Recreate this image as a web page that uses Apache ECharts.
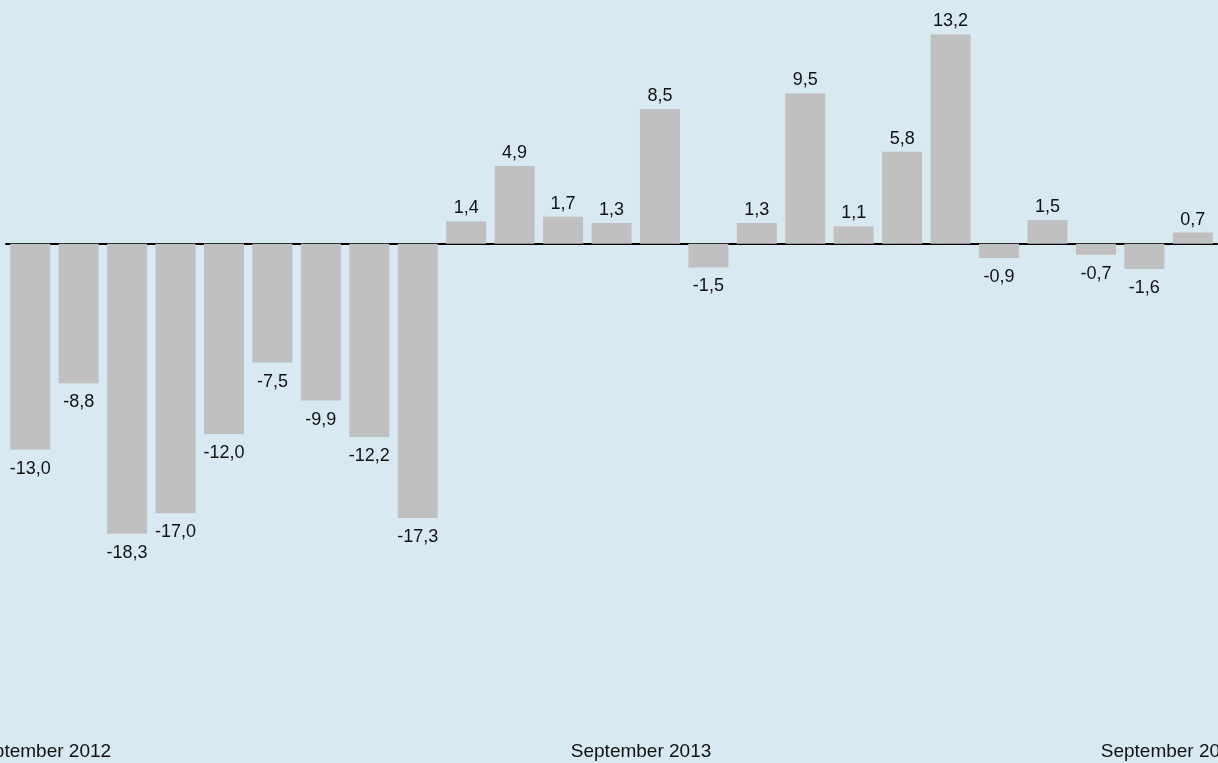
<!DOCTYPE html>
<html>
<head>
<meta charset="utf-8">
<script src="https://cdn.jsdelivr.net/npm/echarts@6/dist/echarts.min.js"></script>
<style>
html,body{margin:0;padding:0;background:#d9e9f2;}
#c{width:1218px;height:763px;}
</style>
</head>
<body>
<div id="c"></div>
<script>
// Data
const categories = ['2012-09','2012-10','2012-11','2012-12','2013-01','2013-02','2013-03','2013-04','2013-05','2013-06','2013-07','2013-08','2013-09','2013-10','2013-11','2013-12','2014-01','2014-02','2014-03','2014-04','2014-05','2014-06','2014-07','2014-08','2014-09'];
const values = [-13.0,-8.8,-18.3,-17.0,-12.0,-7.5,-9.9,-12.2,-17.3,1.4,4.9,1.7,1.3,8.5,-1.5,1.3,9.5,1.1,5.8,13.2,-0.9,1.5,-0.7,-1.6,0.7];
const tickLabels = ['September 2012','September 2013','September 2014'];
const tickPositions = [0.72, 13.11, 24.05];

const fmt = v => v.toFixed(1).replace('.', ',');
const chart = echarts.init(document.getElementById('c'));
chart.setOption({
  backgroundColor: '#d9e9f2',
  animation: false,
  textStyle: { fontFamily: 'Liberation Sans, Arial, sans-serif' },
  grid: { left: 6, right: 1, top: 6, bottom: 28, containLabel: false, outerBoundsMode: 'none' },
  xAxis: [
    {
      type: 'category', data: categories, position: 'top',
      axisLine: { show: true, onZero: true, lineStyle: { color: '#000', width: 2 } },
      axisTick: { show: false }, axisLabel: { show: false }, splitLine: { show: false }
    },
    {
      type: 'value', min: 0, max: categories.length, position: 'bottom',
      axisLine: { show: false, onZero: false }, axisTick: { show: false }, splitLine: { show: false },
      axisLabel: {
        customValues: tickPositions,
        margin: 7,
        hideOverlap: false,
        color: '#111', fontSize: 19, fontFamily: 'Liberation Sans, Arial, sans-serif',
        formatter: function (val) {
          let best = 0, d = Infinity;
          tickPositions.forEach((p, i) => { if (Math.abs(p - val) < d) { d = Math.abs(p - val); best = i; } });
          return tickLabels[best];
        }
      }
    }
  ],
  yAxis: { type: 'value', min: -31, max: 15, show: false, splitLine: { show: false } },
  series: [{
    type: 'bar', xAxisIndex: 0, barWidth: 40,
    itemStyle: { color: '#c0c0c0' },
    data: values.map(v => ({ value: v, label: { position: v < 0 ? 'bottom' : 'top', distance: v < 0 ? 10 : 4 } })),
    label: {
      show: true, color: '#111', fontSize: 18, fontFamily: 'Liberation Sans, Arial, sans-serif',
      formatter: p => fmt(p.value)
    }
  }]
});
</script>
</body>
</html>
